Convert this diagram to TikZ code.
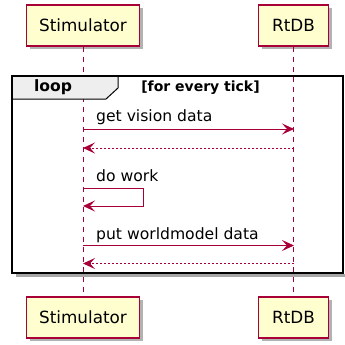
\documentclass[tikz,border=0pt]{standalone}
\usepackage{fontspec}
\setmainfont{DejaVu Sans}
\usetikzlibrary{arrows.meta,shadows}
\definecolor{umlred}{HTML}{A80036}
\definecolor{umlfill}{HTML}{FEFECE}
\definecolor{tabfill}{HTML}{EEEEEE}
\tikzset{
  actor/.style={draw=umlred, fill=umlfill, line width=1.2pt, minimum height=41pt,
    inner sep=0pt, font=\fontsize{16.8}{20}\selectfont,
    drop shadow={shadow xshift=3pt, shadow yshift=-3pt, opacity=0.3, fill=black}},
  lifeline/.style={draw=umlred, line width=1pt, dash pattern=on 5pt off 5pt},
  msg/.style={draw=umlred, line width=1pt, -{Stealth[length=12pt,width=11pt,inset=5pt]}},
  reply/.style={msg, dash pattern=on 2pt off 2pt},
  msgtext/.style={font=\fontsize{15.6}{18}\selectfont, anchor=base west, inner sep=0pt},
  framebox/.style={draw=black, line width=1.6pt, inner sep=0pt},
  tabbox/.style={draw=black, line width=1pt, fill=tabfill},
}
\begin{document}
\begin{tikzpicture}[x=1pt, y=-1pt]
  \useasboundingbox[fill=white] (0,0) rectangle (345,345);

  % participants, top and bottom
  \node[actor, minimum width=113pt] (st)  at (83,25.5)    {Stimulator};
  \node[actor, minimum width=70pt]  (rt)  at (293.5,25.5) {RtDB};
  \node[actor, minimum width=113pt] (stb) at (83,317.5)   {Stimulator};
  \node[actor, minimum width=70pt]  (rtb) at (293.5,317.5) {RtDB};

  % lifelines
  \draw[lifeline] (st.south) -- (stb.north);
  \draw[lifeline] (rt.south) -- (rtb.north);

  % loop fragment: shadow, tab, frame
  \draw[black!35, line width=3pt] (16,275.5) -- (345,275.5);
  \draw[tabbox] (12,76) -- (118,76) -- (118,88) -- (106,99) -- (12,99) -- cycle;
  \node[framebox, minimum width=331pt, minimum height=197pt] (loopbox) at (177.5,174.5) {};
  \node[font=\bfseries\fontsize{15.6}{18}\selectfont, inner sep=0pt] (looplbl) at (53,87.5) {loop};
  \node[font=\bfseries\fontsize{14}{16}\selectfont, inner sep=0pt] (cond) at (200.5,88) {[for every tick]};

  % message anchors on the lifelines
  \coordinate (s1) at (83,129);    \coordinate (r1) at (294,129);
  \coordinate (s2) at (83,148);    \coordinate (r2) at (294,148);
  \coordinate (s3) at (83,188);    \coordinate (w3) at (143,188);
  \coordinate (w4) at (143,206);   \coordinate (s4) at (83,206);
  \coordinate (s5) at (83,245.5);  \coordinate (r5) at (294,245.5);
  \coordinate (s6) at (83,263.5);  \coordinate (r6) at (294,263.5);

  % messages
  \node[msgtext] (m1) at (96,121) {get vision data};
  \draw[msg] (s1) -- (r1);
  \draw[reply] (r2) -- (s2);
  \node[msgtext] (m2) at (96,181) {do work};
  \draw[msg] (s3) -- (w3) -- (w4) -- (s4);
  \node[msgtext] (m3) at (96,239) {put worldmodel data};
  \draw[msg] (s5) -- (r5);
  \draw[reply] (r6) -- (s6);
\end{tikzpicture}
\end{document}
